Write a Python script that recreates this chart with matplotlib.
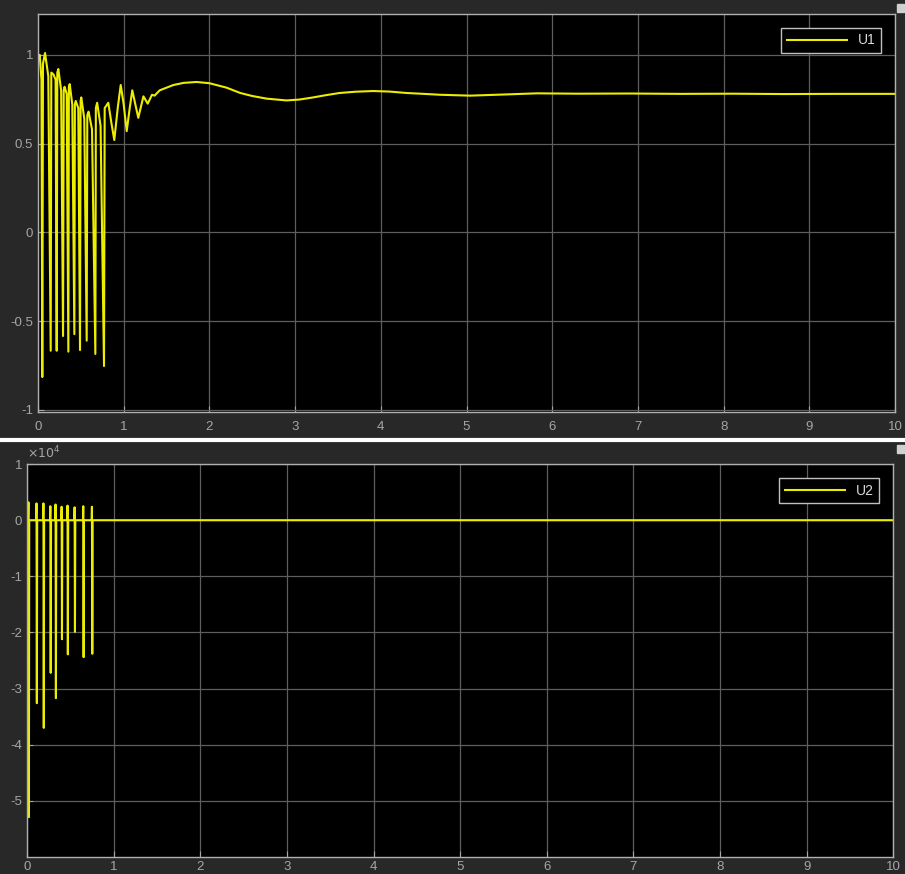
import matplotlib
matplotlib.use("Agg")
import matplotlib.pyplot as plt
from matplotlib.lines import Line2D
from matplotlib.patches import Rectangle

# U1 trace, vertices (time s, value)
u1_t = [0.0, 0.02, 0.04, 0.050, 0.058, 0.082, 0.12, 0.148, 0.155, 0.18, 0.205,
        0.218, 0.225, 0.237, 0.27, 0.292, 0.300, 0.31, 0.335, 0.354, 0.36, 0.37,
        0.40, 0.424, 0.43, 0.44, 0.47, 0.490, 0.497, 0.505, 0.54, 0.568, 0.575,
        0.59, 0.63, 0.669, 0.675, 0.69, 0.73, 0.770, 0.778, 0.82, 0.855, 0.89, 0.93, 0.965,
        1.0, 1.035, 1.07, 1.10, 1.17, 1.23, 1.28, 1.33, 1.36, 1.42, 1.5, 1.58, 1.7, 1.85, 2.0,
        2.2, 2.36, 2.5, 2.67, 2.9, 3.05, 3.21, 3.35, 3.52, 3.7, 3.91, 4.1, 4.3,
        4.5, 4.69, 5.04, 5.47, 5.82, 6.3, 6.9, 7.5, 8.1, 8.7, 9.3, 10.0]
u1_v = [0.98, 1.0, 0.86, -0.815, 0.95, 1.01, 0.88, -0.667, 0.90, 0.89, 0.86,
        -0.667, 0.90, 0.92, 0.80, -0.584, 0.80, 0.82, 0.78, -0.672, 0.82, 0.835,
        0.72, -0.573, 0.72, 0.74, 0.70, -0.663, 0.74, 0.76, 0.64, -0.61, 0.66,
        0.68, 0.58, -0.685, 0.70, 0.73, 0.60, -0.753, 0.70, 0.73, 0.62, 0.52, 0.70, 0.83,
        0.72, 0.57, 0.70, 0.80, 0.645, 0.766, 0.725, 0.775, 0.77, 0.80, 0.815, 0.83, 0.842, 0.847, 0.84,
        0.815, 0.785, 0.768, 0.753, 0.743, 0.748, 0.76, 0.772, 0.785, 0.792, 0.796, 0.793, 0.785,
        0.78, 0.775, 0.77, 0.777, 0.783, 0.781, 0.782, 0.780, 0.781, 0.779, 0.780, 0.780]

# U2 trace (raw units, axis shows x10^4)
u2_t = [0.0, 0.012, 0.015, 0.020, 0.024,
        0.105, 0.108, 0.112, 0.116,
        0.185, 0.188, 0.192, 0.196,
        0.265, 0.268, 0.272, 0.276,
        0.325, 0.328, 0.332, 0.336,
        0.395, 0.398, 0.402, 0.406,
        0.463, 0.466, 0.470, 0.474,
        0.545, 0.548, 0.552, 0.556,
        0.645, 0.648, 0.652, 0.656,
        0.745, 0.748, 0.752, 0.756, 10.0]
u2_v = [0, 0, 3200, -52900, 0,
        0, 3000, -32600, 0,
        0, 3000, -37000, 0,
        0, 2500, -27200, 0,
        0, 2800, -31700, 0,
        0, 2400, -21200, 0,
        0, 2600, -23900, 0,
        0, 2300, -19900, 0,
        0, 2500, -24400, 0,
        0, 2400, -23800, 0, 0]

u1_yticks = [-1, -0.5, 0, 0.5, 1]
u1_ylabels = ["-1", "-0.5", "0", "0.5", "1"]
u2_yticks = [-50000, -40000, -30000, -20000, -10000, 0, 10000]
u2_ylabels = ["-5", "-4", "-3", "-2", "-1", "0", "1"]

bg = "#282828"
fg = "#a6a6a6"
grid_c = "#5e5e5e"
yellow = "#eded00"

plt.rcParams["font.family"] = ["Liberation Sans", "DejaVu Sans"]
plt.rcParams["axes.unicode_minus"] = False

fig = plt.figure(figsize=(9.05, 8.74), dpi=100, facecolor=bg)
ax1 = fig.add_axes([0.042, 0.529, 0.947, 0.455])
ax2 = fig.add_axes([0.030, 0.0195, 0.957, 0.4495])

for ax in (ax1, ax2):
    ax.set_facecolor("black")
    ax.grid(True, color=grid_c, linewidth=0.9)
    ax.set_xlim(0, 10)
    ax.set_xticks(range(0, 11))
    ax.tick_params(colors=fg, labelsize=9.5, direction="in", length=4)
    for s in ax.spines.values():
        s.set_color("#b0b0b0")
        s.set_linewidth(1.0)

ax1.plot(u1_t, u1_v, color=yellow, linewidth=1.5, label="U1")
ax1.set_ylim(-1.01, 1.23)
ax1.set_yticks(u1_yticks)
ax1.set_yticklabels(u1_ylabels)
ax1.tick_params(axis="x", pad=7)

ax2.plot(u2_t, u2_v, color=yellow, linewidth=1.5, label="U2")
ax2.set_ylim(-60000, 10000)
ax2.set_yticks(u2_yticks)
ax2.set_yticklabels(u2_ylabels)
ax2.tick_params(axis="x", pad=3)
ax2.text(0.0, 1.006, r"$\times10^{4}$", transform=ax2.transAxes, color=fg,
         fontsize=9, ha="left", va="bottom")

for ax in (ax1, ax2):
    leg = ax.legend(loc="upper right", fontsize=10, handlelength=4.3,
                    fancybox=False, facecolor="black", edgecolor="#c0c0c0",
                    borderaxespad=1.0, framealpha=1.0)
    for t in leg.get_texts():
        t.set_color("#d9d9d9")

# white divider between the two scope panels
fig.add_artist(Line2D([0, 1], [0.497, 0.497], color="white", linewidth=3,
                      transform=fig.transFigure))

# small panel icons in the top-right corners
for y0 in (0.986, 0.482):
    fig.add_artist(Rectangle((0.991, y0), 0.008, 0.009, facecolor="#d0d0d0",
                             edgecolor="#d0d0d0", transform=fig.transFigure))

fig.savefig("out.png", dpi=100, facecolor=bg)
